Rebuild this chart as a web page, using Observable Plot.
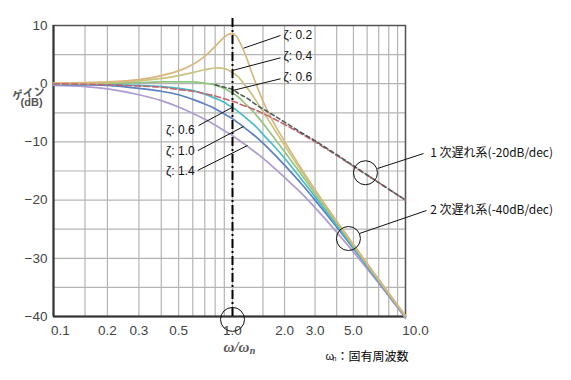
<!DOCTYPE html>
<html><head><meta charset="utf-8">
<script src="https://cdn.jsdelivr.net/npm/d3@7"></script>
<script src="https://cdn.jsdelivr.net/npm/@observablehq/plot@0.6"></script>
<style>body{margin:0;background:#fff;} #chart svg{display:block}</style>
</head><body><div id="chart"></div>
<script>
// ---- data ----
const omega = [0.1,0.15,0.2,0.3,0.4,0.5,0.6,0.7,0.8,0.9,0.95,1.0,1.05,1.1,1.2,1.3,1.4,1.5,1.7,2,2.5,3,4,5,7,10];
const gainZeta02 = [0.1,0.2,0.3,0.7,1.4,2.2,3.3,4.7,6.4,8.0,8.5,8.6,8.2,7.2,4.6,1.7,-0.8,-3.0,-6.3,-9.9,-14.6,-18.2,-23.6,-27.6,-33.6,-39.9];
const gainZeta04 = [0.1,0.1,0.2,0.5,0.9,1.4,1.9,2.4,2.7,2.6,2.3,1.9,1.5,0.9,-0.5,-1.9,-3.4,-4.8,-7.3,-10.6,-15.0,-18.4,-23.7,-27.7,-33.7,-39.9];
const gainZeta06 = [0,0,0.1,0.2,0.3,0.3,0.3,0.1,-0.2,-0.8,-1.2,-1.6,-2.0,-2.5,-3.6,-4.6,-5.7,-6.8,-8.9,-11.7,-15.6,-18.9,-23.9,-27.9,-33.8,-40.0];
const gainTeal   = [0,-0.1,-0.1,-0.3,-0.5,-0.8,-1.2,-1.8,-2.5,-3.2,-3.7,-4.1,-4.5,-5.0,-5.9,-6.8,-7.7,-8.7,-10.4,-12.8,-16.4,-19.4,-24.3,-28.1,-33.9,-40.0];
const gainZeta10 = [-0.1,-0.2,-0.3,-0.8,-1.3,-1.9,-2.7,-3.5,-4.3,-5.2,-5.6,-6.0,-6.5,-6.9,-7.8,-8.6,-9.4,-10.2,-11.8,-14.0,-17.2,-20.0,-24.6,-28.3,-34.0,-40.1];
const gainZeta14 = [-0.3,-0.5,-0.9,-1.9,-2.9,-4.0,-5.1,-6.1,-7.1,-8.1,-8.5,-8.9,-9.4,-9.8,-10.6,-11.4,-12.1,-12.8,-14.2,-16.1,-18.8,-21.3,-25.5,-28.9,-34.3,-40.3];
const gainFirstOrder = [0,-0.1,-0.2,-0.4,-0.6,-1.0,-1.3,-1.7,-2.1,-2.6,-2.8,-3.0,-3.2,-3.5,-3.9,-4.3,-4.7,-5.1,-5.9,-7.0,-8.6,-10.0,-12.3,-14.2,-17.0,-20.0];
const omegaDark = [0.8,0.9,1.0,1.1,1.2,1.4,1.7,2,2.5,3,4,5,7,10];
const gainDark  = [-0.2,-0.6,-1.0,-1.8,-2.4,-3.8,-5.3,-6.6,-8.4,-9.8,-12.2,-14.1,-17.0,-20.0];

const xGrid = [0.1,0.15,0.2,0.3,0.4,0.5,0.6,0.7,0.8,0.9,1,1.5,2,3,4,5,6,7,8,9,10];
const yGrid = [10,5,0,-5,-10,-15,-20,-25,-30,-35,-40];
const xTickLabels = [0.1,0.2,0.3,0.5,0.8,1,2,3,5,8,10];
const yTickLabels = [10,0,-10,-20,-30,-40];

const zetaTextRight = ["ζ: 0.2","ζ: 0.4","ζ: 0.6"];
const zetaTextLeft = ["ζ: 0.6","ζ: 1.0","ζ: 1.4"];
const orderText = ["1 次遅れ系(-20dB/dec)","2 次遅れ系(-40dB/dec)"];

// ---- build tables ----
const solid = [
  {name:"z14", g:gainZeta14, c:"#ae9bd2"},
  {name:"z10", g:gainZeta10, c:"#5b80c4"},
  {name:"teal", g:gainTeal, c:"#46bcc8"},
  {name:"z06", g:gainZeta06, c:"#8ec77d"},
  {name:"z04", g:gainZeta04, c:"#cbc27d"},
  {name:"z02", g:gainZeta02, c:"#d9b77f"}
];
const lineMarks = solid.map(s => Plot.line(omega.map((w,i)=>({w, g:s.g[i]})), {x:"w", y:"g", stroke:s.c, strokeWidth:1.7, curve:"catmull-rom"}));
const firstRows = omega.map((w,i)=>({w, g:gainFirstOrder[i]}));
const darkRows = omegaDark.map((w,i)=>({w, g:gainDark[i]}));

// annotation anchors (data units)
const rightLabels = zetaTextRight.map((t,i)=>({t, x:1.97, y:[8.3,4.7,1.1][i]}));
const rightLinks = [
  {x1:1.894,y1:8.28,x2:1.158,y2:6.10},
  {x1:1.894,y1:4.45,x2:1.0,y2:2.27},
  {x1:1.894,y1:0.84,x2:1.0,y2:-1.17}
];
const leftLabels = zetaTextLeft.map((t,i)=>({t, x:0.615, y:[-8.0,-11.6,-15.1][i]}));
const leftLinks = [
  {x1:0.646,y1:-7.2,x2:1.0,y2:-4.04},
  {x1:0.640,y1:-11.5,x2:1.158,y2:-7.35},
  {x1:0.640,y1:-14.9,x2:1.221,y2:-10.62}
];
const orderLabels = orderText.map((t,i)=>({t, x:13.9, y:[-12.0,-21.8][i]}));
const orderLinks = [
  {x1:6.89,y1:-14.57,x2:12.71,y2:-12.0},
  {x1:5.42,y1:-25.74,x2:13.22,y2:-21.79}
];
const circles = [{x:5.87,y:-15.3},{x:4.68,y:-26.6},{x:1.0,y:-40.5}];

const fmtY = d => d < 0 ? "\u2212" + Math.abs(d) : String(d);
const fmtX = d3.format(".1f");
const axisCommon = {tickSize:0, tickPadding:9, fontSize:13.5, fill:"#444", label:null, tickFormat:fmtX};

const chart = Plot.plot({
  width: 571, height: 380,
  marginLeft: 53, marginRight: 166, marginTop: 25, marginBottom: 64,
  style: {fontFamily: "Liberation Sans, Arial, sans-serif", background: "#fff"},
  x: {type: "log", domain: [0.1, 1, 10], range: [53, 232, 405]},
  y: {domain: [-40, 10], range: [316, 25]},
  marks: [
    Plot.ruleX(xGrid, {stroke: "#b4b4b4", strokeWidth: 1.2}),
    Plot.ruleY(yGrid, {stroke: "#b4b4b4", strokeWidth: 1.2}),
    Plot.frame({stroke: "#555", strokeWidth: 1.5}),
    Plot.ruleX([0.1], {stroke: "#333", strokeWidth: 2}),
    Plot.ruleY([-40], {stroke: "#333", strokeWidth: 2}),
    ...lineMarks,
    Plot.line(firstRows, {x:"w", y:"g", stroke:"#c4646e", strokeWidth:1.6, strokeDasharray:"6,3", curve:"catmull-rom"}),
    Plot.line(darkRows, {x:"w", y:"g", stroke:"#4f5f58", strokeWidth:1.6, strokeDasharray:"4,3", curve:"catmull-rom"}),
    Plot.ruleX([1], {y1: 11.2, y2: -40.3, stroke: "#000", strokeWidth: 2, strokeDasharray: "9,3,2,3"}),
    Plot.axisY({ticks: yTickLabels, tickSize: 0, tickPadding: 6, fontSize: 13.5, fill: "#444", label: null, tickFormat: fmtY}),
    Plot.axisX({...axisCommon, ticks: [0.2,0.3,0.5,1,2,3,5]}),
    Plot.axisX({...axisCommon, ticks: [xTickLabels[0]], dx: 7}),
    Plot.axisX({...axisCommon, ticks: [xTickLabels[4]], dx: -3}),
    Plot.axisX({...axisCommon, ticks: [xTickLabels[9]], dx: -5}),
    Plot.axisX({...axisCommon, ticks: [xTickLabels[10]], dx: 10}),
    Plot.link([...rightLinks, ...leftLinks, ...orderLinks], {x1:"x1", y1:"y1", x2:"x2", y2:"y2", stroke:"#111", strokeWidth:1}),
    Plot.dot(circles, {x:"x", y:"y", r:12, stroke:"#111", fill:"none", strokeWidth:1}),
    Plot.text(rightLabels, {x:"x", y:"y", text:"t", textAnchor:"start", fontSize:12, fill:"#111"}),
    Plot.text(leftLabels, {x:"x", y:"y", text:"t", textAnchor:"end", fontSize:12, fill:"#111"}),
    Plot.text(orderLabels, {x:"x", y:"y", text:"t", textAnchor:"start", fontSize:12, fill:"#111", fontFamily:"Noto Sans CJK JP"}),
    Plot.text(["ゲイン"], {x:0.0725, y:-1.7, text:d=>d, fontSize:11, fontWeight:"bold", fill:"#555", rotate:-10, fontFamily:"Noto Sans CJK JP"}),
    Plot.text(["(dB)"], {x:0.0754, y:-3.3, text:d=>d, fontSize:11, fontWeight:"bold", fill:"#555"}),
    Plot.text(["ω/ω"], {x:0.89, y:-45.3, text:d=>d, textAnchor:"start", fontSize:15, fontWeight:"bold", fontStyle:"italic", fill:"#555", fontFamily:"Liberation Serif"}),
    Plot.text(["n"], {x:1.26, y:-45.9, text:d=>d, textAnchor:"start", fontSize:10, fontWeight:"bold", fontStyle:"italic", fill:"#555", fontFamily:"Liberation Serif"}),
    Plot.text(["ω"], {x:3.45, y:-46.9, text:d=>d, textAnchor:"start", fontSize:11, fill:"#111"}),
    Plot.text(["n"], {x:3.79, y:-47.3, text:d=>d, textAnchor:"start", fontSize:7, fill:"#111"}),
    Plot.text(["：固有周波数"], {x:3.99, y:-46.9, text:d=>d, textAnchor:"start", fontSize:12, fill:"#000", fontFamily:"Noto Sans CJK JP"})
  ]
});
document.getElementById("chart").appendChild(chart);
</script>
</body></html>
